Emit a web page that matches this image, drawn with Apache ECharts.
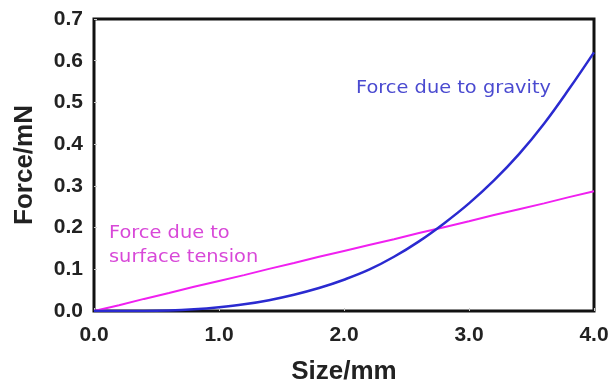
<!DOCTYPE html>
<html>
<head>
<meta charset="utf-8">
<script src="https://cdn.jsdelivr.net/npm/echarts@6/dist/echarts.min.js"></script>
<style>
  html, body { margin: 0; padding: 0; background: #fff; }
  #chart { width: 609px; height: 387px; }
</style>
</head>
<body>
<div id="chart"></div>
<script>
// size in mm
const sizes = [0, 0.2, 0.4, 0.6, 0.8, 1.0, 1.2, 1.4, 1.6, 1.8, 2.0,
  2.2, 2.4, 2.6, 2.8, 3.0, 3.2, 3.4, 3.6, 3.8, 4.0];
// force in mN
const gravity = [0, 0, 0, 0.001, 0.004, 0.009, 0.016, 0.026, 0.039, 0.055, 0.075,
  0.099, 0.13, 0.167, 0.21, 0.258, 0.313, 0.376, 0.449, 0.532, 0.62];
const tension = [0, 0.014, 0.029, 0.043, 0.058, 0.072, 0.086, 0.101, 0.115, 0.13, 0.144,
  0.158, 0.172, 0.187, 0.201, 0.215, 0.23, 0.244, 0.258, 0.273, 0.287];

const labelFont = "Liberation Sans, Arial, sans-serif";
const noteFont = "DejaVu Sans, Verdana, sans-serif";

const chart = echarts.init(document.getElementById("chart"));

chart.setOption({
  animation: false,
  backgroundColor: "#fff",
  grid: {
    left: 94,
    right: 15,
    top: 19,
    bottom: 76,
    containLabel: false,
    outerBoundsMode: "none",
    show: true,
    borderColor: "#111",
    borderWidth: 3,
  },
  xAxis: {
    type: "value",
    min: 0,
    max: 4,
    interval: 1,
    name: "Size/mm",
    nameLocation: "middle",
    nameGap: 48,
    nameTextStyle: {
      fontFamily: labelFont,
      fontWeight: "bold",
      fontSize: 26,
      color: "#222",
    },
    axisLine: { show: false },
    axisTick: { show: true, inside: true, length: 3, lineStyle: { color: "#ccc" } },
    splitLine: { show: false },
    axisLabel: {
      margin: 14,
      fontFamily: labelFont,
      fontWeight: "bold",
      fontSize: 21,
      color: "#222",
      formatter: (v) => v.toFixed(1),
    },
  },
  yAxis: {
    type: "value",
    min: 0,
    max: 0.7,
    interval: 0.1,
    name: "Force/mN",
    nameLocation: "middle",
    nameGap: 56,
    nameTextStyle: {
      fontFamily: labelFont,
      fontWeight: "bold",
      fontSize: 26,
      color: "#222",
    },
    axisLine: { show: false },
    axisTick: { show: true, inside: true, length: 3, lineStyle: { color: "#ccc" } },
    splitLine: { show: false },
    axisLabel: {
      margin: 11,
      fontFamily: labelFont,
      fontWeight: "bold",
      fontSize: 21,
      color: "#222",
      formatter: (v) => v.toFixed(1),
    },
  },
  series: [
    {
      name: "Force due to surface tension",
      type: "line",
      showSymbol: false,
      data: sizes.map((s, i) => [s, tension[i]]),
      lineStyle: { color: "#f020f0", width: 2 },
      z: 3,
    },
    {
      name: "Force due to gravity",
      type: "line",
      smooth: 0.4,
      showSymbol: false,
      data: sizes.map((s, i) => [s, gravity[i]]),
      lineStyle: { color: "#2a2ad0", width: 2.5 },
      z: 4,
    },
  ],
  graphic: [
    {
      type: "text",
      left: 356,
      top: 80,
      scaleX: 1.14,
      style: {
        text: "Force due to gravity",
        font: "17px " + noteFont,
        fill: "#4a4ad0",
      },
    },
    {
      type: "text",
      left: 109,
      top: 222,
      scaleX: 1.14,
      style: {
        text: "Force due to\nsurface tension",
        font: "17px " + noteFont,
        lineHeight: 24,
        fill: "#d848d8",
      },
    },
  ],
});
</script>
</body>
</html>
